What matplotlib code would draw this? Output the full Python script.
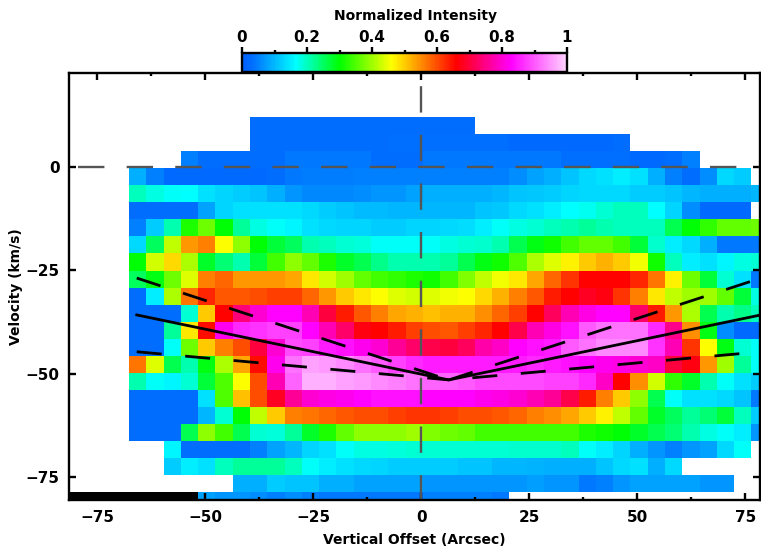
""" Position-velocity diagram with normalized intensity """

import numpy as np
from matplotlib import pyplot as plt
from matplotlib.colors import LinearSegmentedColormap

plt.rcParams['font.family'] = 'DejaVu Sans'
plt.rcParams['font.weight'] = 'bold'
plt.rcParams['axes.labelweight'] = 'bold'
plt.rcParams['lines.scale_dashes'] = False

nan = float('nan')

# Cell grid: 37 columns (arcsec) and 23 rows (km/s), first edge and step.
x_start, x_step = -67.6, 4.0
y_start, y_step = 12.0, -4.12

# Intensity by row, top to bottom. nan = no data.
intensity = [
    [nan]*7 + [.03]*13 + [nan]*17,
    [nan]*7 + [.03]*8 + [.035]*7 + [.02]*6 + [.03] + [nan]*8,
    [nan]*3 + [.05, .03, .03, .03, .03, .03, .04, .04, .04, .04, .04, .03, .03, .03, .04, .04, .04, .04, .04, .04, .04, .04, .035, .035, .035, .035, .02, .02, .03, .05] + [nan]*4,
    [.09, .05, .02, .02, .02, .02, .02, .02, .03, .04, .045, .045, .045, .05, .05, .05, .05, .05, .05, .05, .05, .05, .06, .08, .09, .11, .13, .14, .15, .14, .09, .05, .03, .06, .13, .12, nan],
    [.20, .18, .17, .165, .14, .125, .12, .11, .09, .07, .055, .055, .055, .06, .07, .07, .08, .09, .09, .09, .09, .10, .11, .115, .12, .125, .13, .13, .13, .12, .12, .11, .10, .09, .09, .09, .10],
    [.03, .03, .03, .03, .08, .125, .14, .14, .14, .14, .13, .12, .11, .105, .105, .10, .10, .10, .10, .10, .11, .115, .13, .14, .15, .165, .175, .19, .20, .20, .165, .125, .06, .02, .02, .02, nan],
    [.05, .12, .21, .32, .37, .30, .22, .18, .17, .16, .14, .13, .125, .125, .12, .12, .125, .125, .13, .135, .15, .17, .18, .19, .20, .21, .22, .21, .20, .20, .20, .26, .30, .33, .36, .36, .37],
    [.13, .25, .42, .54, .56, .46, .39, .30, .27, .25, .21, .20, .19, .185, .17, .17, .17, .17, .18, .19, .195, .21, .26, .29, .31, .34, .36, .36, .34, .27, .195, .15, .13, .09, .04, .04, .04],
    [.30, .43, .49, .41, .28, .24, .21, .27, .34, .39, .36, .32, .28, .26, .23, .21, .21, .21, .22, .26, .29, .31, .35, .41, .44, .47, .50, .52, .50, .45, .31, .20, .15, .14, .16, .18, .19],
    [.25, .29, .37, .44, .56, .58, .54, .54, .54, .53, .48, .43, .40, .36, .34, .33, .32, .31, .34, .38, .42, .45, .48, .53, .58, .62, .66, .66, .66, .63, .57, .47, .37, .27, .19, .14, .04],
    [.03, .15, .41, .57, .63, .59, .59, .60, .61, .61, .58, .54, .50, .48, .46, .44, .43, .44, .45, .46, .49, .52, .56, .59, .64, .66, .68, .67, .62, .56, .48, .42, .40, .40, .36, .27, .18],
    [.03, .03, .03, .19, .50, .66, .74, .80, .83, .83, .78, .70, .64, .59, .56, .53, .52, .51, .52, .52, .55, .58, .61, .66, .72, .78, .81, .83, .83, .73, .64, .54, .41, .26, .21, .23, .20],
    [.03, .03, .22, .48, .65, .82, .86, .87, .88, .88, .83, .78, .73, .67, .66, .64, .61, .60, .59, .61, .63, .66, .71, .78, .81, .84, .90, .92, .92, .92, .86, .75, .55, .29, .06, .02, .02],
    [.03, .03, .17, .37, .50, .56, .60, .70, .80, .89, .88, .85, .84, .82, .80, .76, .73, .71, .70, .72, .77, .79, .83, .84, .85, .90, .92, .94, .94, .94, .87, .78, .62, .46, .29, .19, .17],
    [.57, .44, .26, .21, .29, .41, .53, .65, .82, .92, .96, .95, .94, .92, .90, .88, .86, .85, .85, .85, .85, .85, .85, .86, .85, .84, .83, .82, .81, .80, .79, .70, .67, .54, .40, .22, .17],
    [.21, .17, .16, .19, .27, .35, .46, .60, .78, .91, .97, .97, .96, .95, .94, .93, .92, .91, .91, .90, .89, .89, .89, .89, .88, .88, .86, .79, .66, .55, .43, .33, .28, .21, .17, .14, .12],
    [.03, .03, .03, .03, .14, .35, .51, .60, .68, .76, .80, .81, .82, .83, .84, .84, .84, .83, .83, .83, .82, .81, .80, .78, .76, .71, .64, .56, .50, .39, .26, .17, .14, .14, .13, .11, .04],
    [.03, .03, .03, .03, .10, .19, .30, .42, .50, .56, .57, .58, .59, .60, .60, .61, .62, .62, .61, .60, .60, .59, .58, .56, .55, .53, .50, .47, .42, .36, .28, .25, .22, .24, .27, .20, .12],
    [.03, .03, .03, .26, .39, .34, .26, .19, .185, .22, .28, .32, .36, .39, .39, .39, .40, .38, .37, .36, .34, .34, .34, .34, .34, .34, .32, .31, .30, .28, .26, .24, .21, .18, .17, .15, .07],
    [nan, nan, .16, .03, .03, .03, .03, .05, .08, .10, .125, .14, .17, .18, .18, .185, .19, .19, .19, .19, .19, .19, .195, .195, .195, .20, .17, .15, .125, .09, .07, .05, .07, .08, .13, .17, nan],
    [nan, nan, .12, .15, .14, .20, .22, .22, .22, .20, .17, .15, .14, .13, .125, .12, .12, .12, .12, .11, .11, .10, .10, .095, .09, .09, .09, .11, .13, .14, .09, .13] + [nan]*5,
    [nan]*6 + [.09, .09, .12, .11, .11, .09, .09, .08, .08, .08, .08, .07, .07, .07, .07, .07, .07, .075, .07, .07, .04, .05, .07, .08, .08, .08, .08, .07, .07] + [nan]*2,
    [nan]*4 + [.08, .07, .07, .06, .05, .06, .05, .04, .04, .04, .04, .04, .04, .05, .05, .05, .05, .04] + [nan]*15,
]

# Model lines: outer end and vertex, mirrored about the vertex.
vertex_x, vertex_y = 6.4, -51.5
end_left, end_right = -65.8, 78.6
solid_end_y = -35.8
upper_end_y = -26.9
lower_end_y = -44.7

x_ticks = [-75, -50, -25, 0, 25, 50, 75]
x_minor_ticks = [-62.5, -37.5, -12.5, 12.5, 37.5, 62.5]
y_ticks = [0, -25, -50, -75]
cbar_ticks = [0, 0.2, 0.4, 0.6, 0.8, 1]
cbar_minor_ticks = [0.1, 0.3, 0.5, 0.7, 0.9]
cbar_labels = ['0', '0.2', '0.4', '0.6', '0.8', '1']

cmap = LinearSegmentedColormap.from_list('pv', [
    (0.0, (0, 95/255, 1)),
    (0.03, (0, 110/255, 1)),
    (0.165, (0, 1, 1)),
    (0.30, (0, 1, 0)),
    (0.46, (1, 1, 0)),
    (0.66, (1, 0, 0)),
    (0.83, (1, 0, 1)),
    (1.0, (1, 210/255, 1)),
], N=256)
cmap.set_bad((1, 1, 1, 0))

W, H = 761, 559
fig = plt.figure(figsize=(W/100, H/100), dpi=100)
ax = fig.add_axes([69.3/W, 1-500/H, 690.4/W, 426.7/H])
cax = fig.add_axes([242/W, 1-72.3/H, 325/W, 19.6/H])

values = np.ma.masked_invalid(np.array(intensity))
x_edges = x_start + x_step*np.arange(values.shape[1]+1)
y_edges = y_start + y_step*np.arange(values.shape[0]+1)
mesh = ax.pcolormesh(x_edges, y_edges, values, cmap=cmap, vmin=0, vmax=1,
                     antialiased=False, linewidth=0)

ax.set_xlim(-81.4, 78.3)
ax.set_ylim(-80.5, 22.55)

# Black strip of blank cells in the bottom-left corner.
ax.fill_between([ax.get_xlim()[0], x_edges[4]], y_edges[22], ax.get_ylim()[0],
                color='black', linewidth=0)

# Zero lines.
gray = '#555555'
ax.plot(ax.get_xlim(), [0, 0], color=gray, linewidth=1.7,
        linestyle=(28.5, (19, 16)))
ax.plot([0, 0], ax.get_ylim()[::-1], color=gray, linewidth=1.7,
        linestyle=(25.5, (19, 16)))

# Model lines.
ax.plot([end_left, vertex_x, end_right], [solid_end_y, vertex_y, solid_end_y],
        color='black', linewidth=2)
for end_y, offset in ((upper_end_y, 0), (lower_end_y, 18)):
    ax.plot([end_left, vertex_x], [end_y, vertex_y], color='black', linewidth=2,
            linestyle=(0, (18, 17)))
    ax.plot([vertex_x, end_right], [vertex_y, end_y], color='black', linewidth=2,
            linestyle=(offset, (18, 17)))

ax.set_xticks(x_ticks)
ax.set_xticks(x_minor_ticks, minor=True)
ax.set_yticks(y_ticks)
ax.tick_params(which='major', direction='in', top=True, right=True, length=4.7,
               width=1.7, labelsize=11, pad=7)
ax.tick_params(which='minor', direction='in', top=True, length=2.5, width=1.7)
for spine in ax.spines.values():
    spine.set_linewidth(1.7)

ax.set_xlabel('Vertical Offset (Arcsec)', fontsize=10, labelpad=6)
ax.set_ylabel('Velocity (km/s)', fontsize=10, labelpad=2)

cbar = fig.colorbar(mesh, cax=cax, orientation='horizontal')
cbar.set_ticks(cbar_ticks, labels=cbar_labels)
cbar.set_ticks(cbar_minor_ticks, minor=True)
cbar.outline.set_linewidth(1.7)
cax.xaxis.set_ticks_position('top')
cax.tick_params(which='major', direction='out', length=4.5, width=1.7,
                labelsize=11, pad=1)
cax.tick_params(which='minor', direction='out', length=2.5, width=1.7)
cax.text(0.533, 2.89, 'Normalized Intensity', transform=cax.transAxes,
         ha='center', va='center', fontsize=10)

fig.savefig('out.png', dpi=100)
